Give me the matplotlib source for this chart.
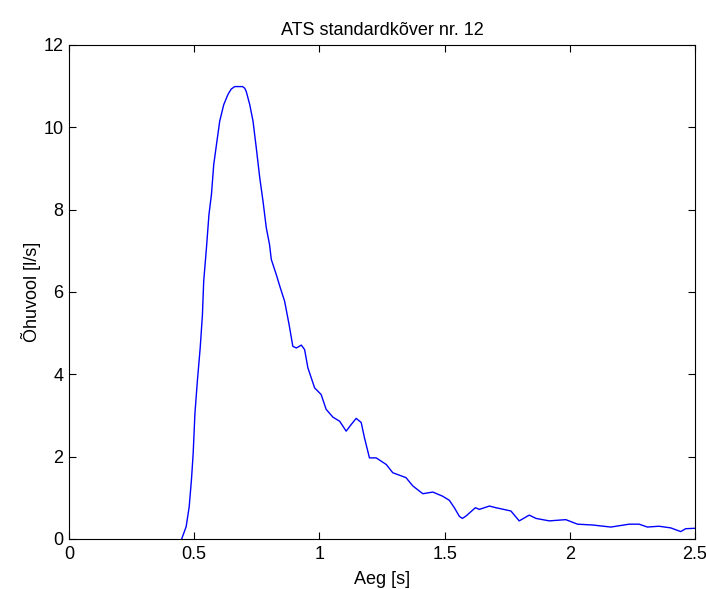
import numpy as np
import matplotlib
matplotlib.use("Agg")
from matplotlib import pyplot as plt

# ATS standard curve nr. 12
time_s = [0.450, 0.468, 0.480, 0.489, 0.496, 0.503, 0.513, 0.524, 0.533, 0.538,
          0.549, 0.559, 0.569, 0.578, 0.589, 0.602, 0.618, 0.635, 0.648, 0.662,
          0.693, 0.702, 0.708, 0.722, 0.735, 0.748, 0.762, 0.775, 0.788, 0.801, 0.808,
          0.828, 0.844, 0.861, 0.879, 0.894, 0.908, 0.928, 0.941, 0.954, 0.981,
          1.007, 1.027, 1.054, 1.081, 1.107, 1.127, 1.147, 1.167, 1.180, 1.200,
          1.227, 1.267, 1.293, 1.346, 1.373, 1.413, 1.453, 1.492, 1.519, 1.539,
          1.559, 1.571, 1.586, 1.623, 1.639, 1.679, 1.705, 1.765, 1.798, 1.838,
          1.865, 1.918, 1.984, 2.031, 2.091, 2.164, 2.237, 2.277, 2.310, 2.356,
          2.403, 2.443, 2.463, 2.500]
flow_ls = [0.00, 0.30, 0.78, 1.43, 2.08, 3.05, 3.86, 4.64, 5.45, 6.26,
           7.07, 7.88, 8.37, 9.09, 9.58, 10.15, 10.55, 10.80, 10.93, 10.99,
           10.99, 10.95, 10.87, 10.55, 10.15, 9.50, 8.77, 8.20, 7.56, 7.15, 6.79,
           6.42, 6.10, 5.78, 5.21, 4.68, 4.64, 4.71, 4.60, 4.16, 3.67,
           3.51, 3.15, 2.96, 2.86, 2.62, 2.78, 2.93, 2.83, 2.46, 1.97,
           1.97, 1.81, 1.61, 1.49, 1.29, 1.10, 1.14, 1.04, 0.94, 0.76,
           0.55, 0.50, 0.56, 0.76, 0.72, 0.80, 0.76, 0.68, 0.44, 0.58,
           0.50, 0.44, 0.47, 0.36, 0.34, 0.29, 0.36, 0.36, 0.29, 0.31,
           0.27, 0.18, 0.25, 0.26]

plt.rcParams["font.family"] = ["Liberation Sans", "DejaVu Sans"]
plt.rcParams["font.size"] = 13

fig = plt.figure(figsize=(7.06, 5.89), dpi=100)
ax = fig.add_axes([0.0977, 0.0849, 0.8867, 0.8387])
ax.plot(time_s, flow_ls, color="#0000ff", linewidth=1.0)

ax.set_xlim(0, 2.5)
ax.set_ylim(0, 12)
ax.set_xticks([0, 0.5, 1, 1.5, 2, 2.5])
ax.set_xticklabels(["0", "0.5", "1", "1.5", "2", "2.5"])
ax.set_yticks(range(0, 13, 2))
ax.tick_params(direction="in", top=True, right=True, length=5, width=0.8)
ax.tick_params(axis="x", pad=5)
ax.tick_params(axis="y", pad=4)
for sp in ax.spines.values():
    sp.set_linewidth(0.8)

ax.set_title("ATS standardkõver nr. 12", fontsize=13, pad=7)
ax.set_xlabel("Aeg [s]", fontsize=13, labelpad=6)
ax.set_ylabel("Õhuvool [l/s]", fontsize=13, labelpad=2)

fig.savefig("out.png", dpi=100)
